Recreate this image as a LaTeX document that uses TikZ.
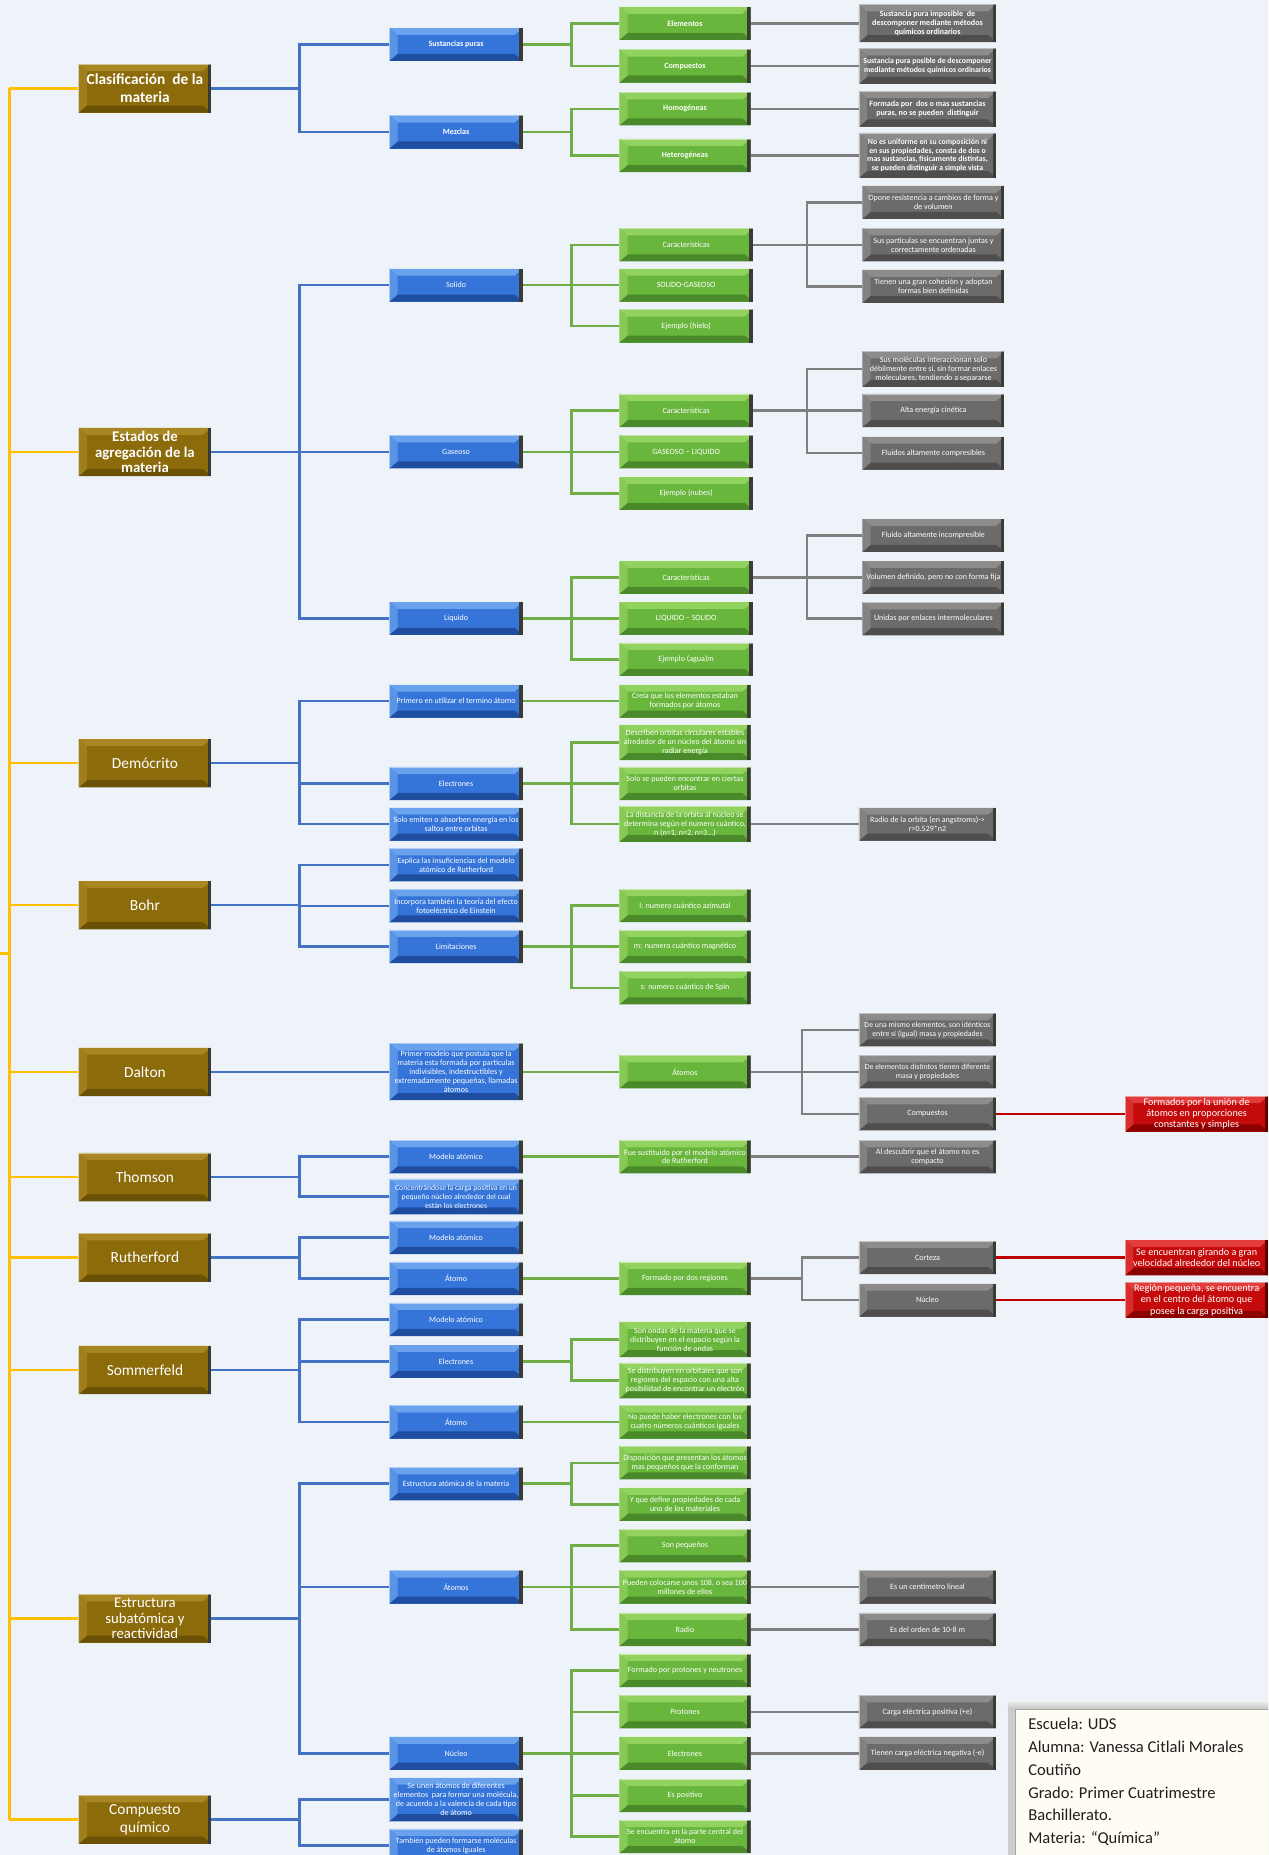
\documentclass[tikz,border=0pt]{standalone}
\usepackage{fontspec}
\setmainfont{Carlito}
\usetikzlibrary{calc}
\definecolor{goldB}{HTML}{8C6B0A}
\definecolor{goldL}{HTML}{A88722}
\definecolor{goldD}{HTML}{6B5106}
\definecolor{edgeD}{HTML}{3A3A36}
\definecolor{blueB}{HTML}{3574D8}
\definecolor{blueL}{HTML}{6AA2EE}
\definecolor{blueD}{HTML}{1F4DA0}
\definecolor{greenB}{HTML}{69B63C}
\definecolor{greenL}{HTML}{92D25F}
\definecolor{greenD}{HTML}{4A8A2A}
\definecolor{grayB}{HTML}{6D6A6A}
\definecolor{grayL}{HTML}{8E8B8B}
\definecolor{grayD}{HTML}{4F4D4D}
\definecolor{redB}{HTML}{C40A0A}
\definecolor{redL}{HTML}{E23C3C}
\definecolor{redD}{HTML}{8C0000}
\definecolor{lnY}{HTML}{FFC000}
\definecolor{lnB}{HTML}{4472C4}
\definecolor{lnG}{HTML}{70AD47}
\definecolor{lnGr}{HTML}{7F7F7F}
\definecolor{lnR}{HTML}{C00000}
\definecolor{bgA}{HTML}{EEF3FA}
\definecolor{bgB}{HTML}{D1E2F2}
\definecolor{infoF}{HTML}{FFFCF3}
\newcommand{\fsG}{\fontsize{13}{14.8}\selectfont}
\newcommand{\fsGt}{\fontsize{12.5}{13.3}\selectfont}
\newcommand{\fsS}{\fontsize{6.8}{7.5}\selectfont}
\newcommand{\fsR}{\fontsize{8.6}{9.6}\selectfont}
\newcommand{\fsE}{\fontsize{14}{19.3}\selectfont}
\begin{document}
\begin{tikzpicture}[x=1pt,y=-1pt,
  bev/.style n args={4}{fill=#1, path picture={
      \fill[#2] (path picture bounding box.north west) -- (path picture bounding box.north east)
        -- ([shift={(-7pt,-6pt)}]path picture bounding box.north east)
        -- ([shift={(7pt,-6pt)}]path picture bounding box.north west) -- cycle;
      \fill[#3] (path picture bounding box.south west) -- (path picture bounding box.south east)
        -- ([shift={(-7pt,6pt)}]path picture bounding box.south east)
        -- ([shift={(7pt,6pt)}]path picture bounding box.south west) -- cycle;
      \fill[#2!70!#1] (path picture bounding box.north west) -- ([shift={(7pt,-6pt)}]path picture bounding box.north west)
        -- ([shift={(7pt,6pt)}]path picture bounding box.south west) -- (path picture bounding box.south west) -- cycle;
      \fill[#4] ([xshift=-3pt]path picture bounding box.north east) rectangle (path picture bounding box.south east);
      \draw[white,opacity=0.5,line width=0.6pt] (path picture bounding box.south west) -- (path picture bounding box.north west) -- (path picture bounding box.north east);
  }},
  base/.style={rectangle, inner sep=1pt, align=center, text=white},
  gbox/.style={base, minimum width=112pt, minimum height=41pt, font=\fsG, bev={goldB}{goldL}{goldD}{edgeD}},
  bbox/.style={base, minimum width=113pt, minimum height=28pt, font=\fsS, bev={blueB}{blueL}{blueD}{edgeD}},
  ebox/.style={base, minimum width=111pt, minimum height=28pt, font=\fsS, bev={greenB}{greenL}{greenD}{edgeD}},
  xbox/.style={base, minimum width=116pt, minimum height=28pt, font=\fsS, bev={grayB}{grayL}{grayD}{edgeD}},
  dbox/.style={base, minimum width=121pt, minimum height=30pt, font=\fsR, bev={redB}{redL}{redD}{redD!70!black}},
  yl/.style={draw=lnY, line width=2pt},
  bl/.style={draw=lnB, line width=2.2pt},
  gl/.style={draw=lnG, line width=2.2pt},
  xl/.style={draw=lnGr, line width=2.2pt},
  rl/.style={draw=lnR, line width=2.2pt}
]
\useasboundingbox (0,0) rectangle (1072,1568);
\clip (0,0) rectangle (1072,1568);
\shade[top color=bgA, middle color=bgB, bottom color=bgA] (0,0) rectangle (1072,1568);

\coordinate (JY) at (8,0);
\coordinate (JB) at (253,0);
\coordinate (JG) at (483,0);
\coordinate (JR) at (682,0);
\coordinate (JS) at (678,0);
\coordinate (stub) at (0,806);

% ---------- gold ----------
\node[gbox, font=\fsG\bfseries] (g1) at (122.5,74.7) {Clasificación~ de la\\materia};
\node[gbox, font=\fsGt\bfseries] (g2) at (122.5,382) {Estados de\\agregación de la\\materia};
\node[gbox] (g3) at (122.5,645) {Demócrito};
\node[gbox] (g4) at (122.5,765) {Bohr};
\node[gbox] (g5) at (122.5,906) {Dalton};
\node[gbox] (g6) at (122.5,995) {Thomson};
\node[gbox] (g7) at (122.5,1063) {Rutherford};
\node[gbox] (g8) at (122.5,1158) {Sommerfeld};
\node[gbox, font=\fsGt] (g9) at (122.5,1368) {Estructura\\subatómica y\\reactividad};
\node[gbox] (g10) at (122.5,1538) {Compuesto\\químico};

% ---------- blue ----------
\node[bbox, font=\fsS\bfseries] (b1) at (385.5,37.5) {Sustancias puras};
\node[bbox, font=\fsS\bfseries] (b2) at (385.5,111.6) {Mezclas};
\node[bbox] (b3) at (385.5,241) {Solido};
\node[bbox] (b4) at (385.5,382) {Gaseoso};
\node[bbox] (b5) at (385.5,522.7) {Liquido};
\node[bbox] (b6) at (385.5,592.6) {Primero en utilizar el termino átomo};
\node[bbox] (b7) at (385.5,662.3) {Electrones};
\node[bbox] (b8) at (385.5,696.6) {Solo emiten o absorben energía en los\\saltos entre orbitas};
\node[bbox] (b9) at (385.5,731) {Explica las insuficiencias del modelo\\atómico de Rutherford};
\node[bbox] (b10) at (385.5,765.7) {Incorpora también la teoría del efecto\\fotoeléctrico de Einstein};
\node[bbox] (b11) at (385.5,800) {Limitaciones};
\node[bbox, minimum height=48pt] (b12) at (385.5,906) {Primer modelo que postula que la\\materia esta formada por partículas\\indivisibles, indestructibles y\\extremadamente pequeñas, llamadas\\átomos};
\node[bbox] (b13) at (385.5,977.8) {Modelo atómico};
\node[bbox, minimum height=30pt, font=\fontsize{6.5}{7.5}\selectfont] (b14) at (385.5,1011.5) {Concentrándose la carga positiva en un\\pequeño núcleo alrededor del cual\\están los electrones};
\node[bbox] (b15) at (385.5,1046) {Modelo atómico};
\node[bbox] (b16) at (385.5,1080.7) {Átomo};
\node[bbox] (b17) at (385.5,1115.3) {Modelo atómico};
\node[bbox] (b18) at (385.5,1150.7) {Electrones};
\node[bbox] (b19) at (385.5,1202) {Átomo};
\node[bbox] (b20) at (385.5,1254.2) {Estructura atómica de la materia};
\node[bbox] (b21) at (385.5,1341.5) {Átomos};
\node[bbox] (b22) at (385.5,1482) {Núcleo};
\node[bbox, minimum height=37pt] (b23) at (385.5,1521) {Se unen átomos de diferentes\\elementos~ para formar una molécula,\\de acuerdo a la valencia de cada tipo\\de átomo};
\node[bbox] (b24) at (385.5,1560) {También pueden formarse moléculas\\de átomos iguales};

% ---------- green ----------
\node[ebox, font=\fsS\bfseries] (e1) at (579,19.7) {Elementos};
\node[ebox, font=\fsS\bfseries] (e2) at (579,55.8) {Compuestos};
\node[ebox, font=\fsS\bfseries] (e3) at (579,92) {Homogéneas};
\node[ebox, font=\fsS\bfseries] (e4) at (579,131.4) {Heterogéneas};
\node[ebox, minimum width=113pt] (e5) at (580,207) {Características};
\node[ebox, minimum width=113pt] (e6) at (580,241) {SOLIDO-GASEOSO};
\node[ebox, minimum width=113pt] (e7) at (580,275.6) {Ejemplo (hielo)};
\node[ebox, minimum width=113pt] (e8) at (580,347) {Características};
\node[ebox, minimum width=113pt] (e9) at (580,382) {GASEOSO – LIQUIDO};
\node[ebox, minimum width=113pt] (e10) at (580,417) {Ejemplo (nubes)};
\node[ebox, minimum width=113pt] (e11) at (580,488) {Características};
\node[ebox, minimum width=113pt] (e12) at (580,522.7) {LIQUIDO – SOLIDO};
\node[ebox, minimum width=113pt] (e13) at (580,557.4) {Ejemplo (agua)m};
\node[ebox] (e14) at (579,592.6) {Creía que los elementos estaban\\formados por átomos};
\node[ebox, minimum height=30pt] (e15) at (579,627.6) {Describen orbitas circulares estables\\alrededor de un núcleo del átomo sin\\radiar energía};
\node[ebox] (e16) at (579,662.3) {Solo se pueden encontrar en ciertas\\orbitas};
\node[ebox, minimum height=30pt] (e17) at (579,696.6) {La distancia de la orbita al núcleo se\\determina según el numero cuántico,\\n (n=1, n=2, n=3...)};
\node[ebox] (e18) at (579,765.5) {l: numero cuántico azimutal};
\node[ebox] (e19) at (579,800) {m: numero cuántico magnético};
\node[ebox] (e20) at (579,835) {s: numero cuántico de Spin};
\node[ebox] (e21) at (579,906) {Átomos};
\node[ebox] (e22) at (579,977.8) {Fue sustituido por el modelo atómico\\de Rutherford};
\node[ebox] (e23) at (579,1080.7) {Formado por dos regiones};
\node[ebox, minimum height=30pt] (e24) at (579,1132.2) {Son ondas de la materia que se\\distribuyen en el espacio según la\\función de ondas};
\node[ebox, minimum height=30pt] (e25) at (579,1167) {Se distribuyen en orbitales que son\\regiones del espacio con una alta\\posibilidad de encontrar un electrón};
\node[ebox] (e26) at (579,1202) {No puede haber electrones con los\\cuatro números cuánticos iguales};
\node[ebox] (e27) at (579,1236.5) {Disposición que presentan los átomos\\mas pequeños que la conforman};
\node[ebox] (e28) at (579,1271.5) {Y que define propiedades de cada\\uno de los materiales};
\node[ebox] (e29) at (579,1306.6) {Son pequeños};
\node[ebox] (e30) at (579,1341.5) {Pueden colocarse unos 108, o sea 100\\millones de ellos};
\node[ebox] (e31) at (579,1377.4) {Radio};
\node[ebox] (e32) at (579,1412) {Formado por protones y neutrones};
\node[ebox] (e33) at (579,1447) {Protones};
\node[ebox] (e34) at (579,1482) {Electrones};
\node[ebox] (e35) at (579,1517.8) {Es positivo};
\node[ebox] (e36) at (579,1552.4) {Se encuentra en la parte central del\\átomo};

% ---------- gray ----------
\node[xbox, font=\fsS\bfseries, minimum height=32pt] (s1) at (784,19.7) {Sustancia pura imposible~ de\\descomponer mediante métodos\\químicos ordinarios};
\node[xbox, font=\fontsize{6.6}{7.5}\selectfont\bfseries, minimum height=30pt] (s2) at (784,55.8) {Sustancia pura posible de descomponer\\mediante métodos químicos ordinarios};
\node[xbox, font=\fsS\bfseries, minimum height=30pt] (s3) at (784,92) {Formada por~ dos o mas sustancias\\puras, no se pueden~ distinguir};
\node[xbox, font=\fontsize{6.6}{7.3}\selectfont\bfseries, minimum height=38pt] (s4) at (784,131.4) {No es uniforme en su composición ni\\en sus propiedades, consta de dos o\\mas sustancias, físicamente distintas,\\se pueden distinguir a simple vista};
\node[xbox, minimum width=120pt] (r5) at (789,171) {Opone resistencia a cambios de forma y\\de volumen};
\node[xbox, minimum width=120pt] (r6) at (789,207) {Sus partículas se encuentran juntas y\\correctamente ordenadas};
\node[xbox, minimum width=120pt] (r7) at (789,242) {Tienen una gran cohesión y adoptan\\formas bien definidas};
\node[xbox, minimum width=120pt, minimum height=30pt] (r8) at (789,312) {Sus moléculas interaccionan solo\\débilmente entre sí, sin formar enlaces\\moleculares, tendiendo a separarse};
\node[xbox, minimum width=120pt] (r9) at (789,347) {Alta energía cinética};
\node[xbox, minimum width=120pt] (r10) at (789,383) {Fluidos altamente compresibles};
\node[xbox, minimum width=120pt] (r11) at (789,452.5) {Fluido altamente incompresible};
\node[xbox, minimum width=120pt] (r12) at (789,488) {Volumen definido, pero no con forma fija};
\node[xbox, minimum width=120pt] (r13) at (789,523) {Unidas por enlaces intermoleculares};
\node[xbox] (r14) at (784,696.6) {Radio de la orbita (en angstroms)->\\r=0.529*n2};
\node[xbox, font=\fontsize{6.6}{7.5}\selectfont] (r15) at (784,870.5) {De una mismo elementos, son idénticos\\entre sí (igual) masa y propiedades};
\node[xbox, font=\fontsize{6.6}{7.5}\selectfont] (r16) at (784,906) {De elementos distintos tienen diferente\\masa y propiedades};
\node[xbox] (r17) at (784,941.5) {Compuestos};
\node[xbox] (r18) at (784,977.8) {Al descubrir que el átomo no es\\compacto};
\node[xbox] (r19) at (784,1063) {Corteza};
\node[xbox] (r20) at (784,1099) {Núcleo};
\node[xbox] (r21) at (784,1341.5) {Es un centímetro lineal};
\node[xbox] (r22) at (784,1377.4) {Es del orden de 10-8 m};
\node[xbox] (r23) at (784,1447) {Carga eléctrica positiva (+e)};
\node[xbox] (r24) at (784,1482) {Tienen carga eléctrica negativa (-e)};

% ---------- red ----------
\node[dbox] (d1) at (1011.5,941.5) {Formados por la unión de\\átomos en proporciones\\constantes y simples};
\node[dbox] (d2) at (1011.5,1063) {Se encuentran girando a gran\\velocidad alrededor del núcleo};
\node[dbox] (d3) at (1011.5,1099) {Región pequeña, se encuentra\\en el centro del átomo que\\posee la carga positiva};

% ---------- yellow trunk ----------
\draw[yl] (g1.west -| JY) -- (g10.west -| JY);
\foreach \g in {g1,g2,g3,g4,g5,g6,g7,g8,g9,g10} {\draw[yl] (\g.west -| JY) -- (\g.west);}
\draw[yl] (stub) -- (stub -| JY);

% ---------- blue connectors ----------
\foreach \p/\c in {g1/b1,g1/b2,g2/b3,g2/b4,g2/b5,g3/b6,g3/b7,g3/b8,g4/b9,g4/b10,g4/b11,
                   g6/b13,g6/b14,g7/b15,g7/b16,g8/b17,g8/b18,g8/b19,g9/b20,g9/b21,g9/b22,g10/b23,g10/b24}
  {\draw[bl] (\p.east) -- (\p.east -| JB) |- (\c.west);}
\draw[bl] (g5.east) -- (b12.west);

% ---------- green connectors ----------
\foreach \p/\c in {b1/e1,b1/e2,b2/e3,b2/e4,b3/e5,b3/e6,b3/e7,b4/e8,b4/e9,b4/e10,b5/e11,b5/e12,b5/e13,
                   b7/e15,b7/e16,b7/e17,b11/e18,b11/e19,b11/e20,b18/e24,b18/e25,b20/e27,b20/e28,
                   b21/e29,b21/e30,b21/e31,b22/e32,b22/e33,b22/e34,b22/e35,b22/e36}
  {\draw[gl] (\p.east) -- (\p.east -| JG) |- (\c.west);}
\foreach \p/\c in {b6/e14,b12/e21,b13/e22,b16/e23,b19/e26}
  {\draw[gl] (\p.east) -- (\c.west);}

% ---------- gray connectors ----------
\foreach \p/\c in {e1/s1,e2/s2,e3/s3,e4/s4,e17/r14,e22/r18,e30/r21,e31/r22,e33/r23,e34/r24}
  {\draw[xl] (\p.east) -- (\c.west);}
\foreach \p/\c in {e5/r5,e5/r6,e5/r7,e8/r8,e8/r9,e8/r10,e11/r11,e11/r12,e11/r13}
  {\draw[xl] (\p.east) -- (\p.east -| JR) |- (\c.west);}
\foreach \p/\c in {e21/r15,e21/r16,e21/r17,e23/r19,e23/r20}
  {\draw[xl] (\p.east) -- (\p.east -| JS) |- (\c.west);}

% ---------- red connectors ----------
\foreach \p/\c in {r17/d1,r19/d2,r20/d3}
  {\draw[rl] (\p.east) -- (\c.west);}

% ---------- info box ----------
\fill[gray!40] (852,1439) rectangle (1085,1580);
\shade[top color=gray!20, bottom color=gray!45] (852,1439) rectangle (1085,1445);
\fill[infoF] (858,1445) rectangle (1085,1580);
\draw[gray!70, line width=0.6pt] (858,1580) -- (858,1445) -- (1085,1445);
\node[anchor=north west, align=left, font=\fsE, text=black!88, inner sep=0pt] (info) at (869,1452)
  {Escuela: UDS\\Alumna: Vanessa Citlali Morales\\Coutiño\\Grado: Primer Cuatrimestre\\Bachillerato.\\Materia: “Química”};
\end{tikzpicture}
\end{document}
